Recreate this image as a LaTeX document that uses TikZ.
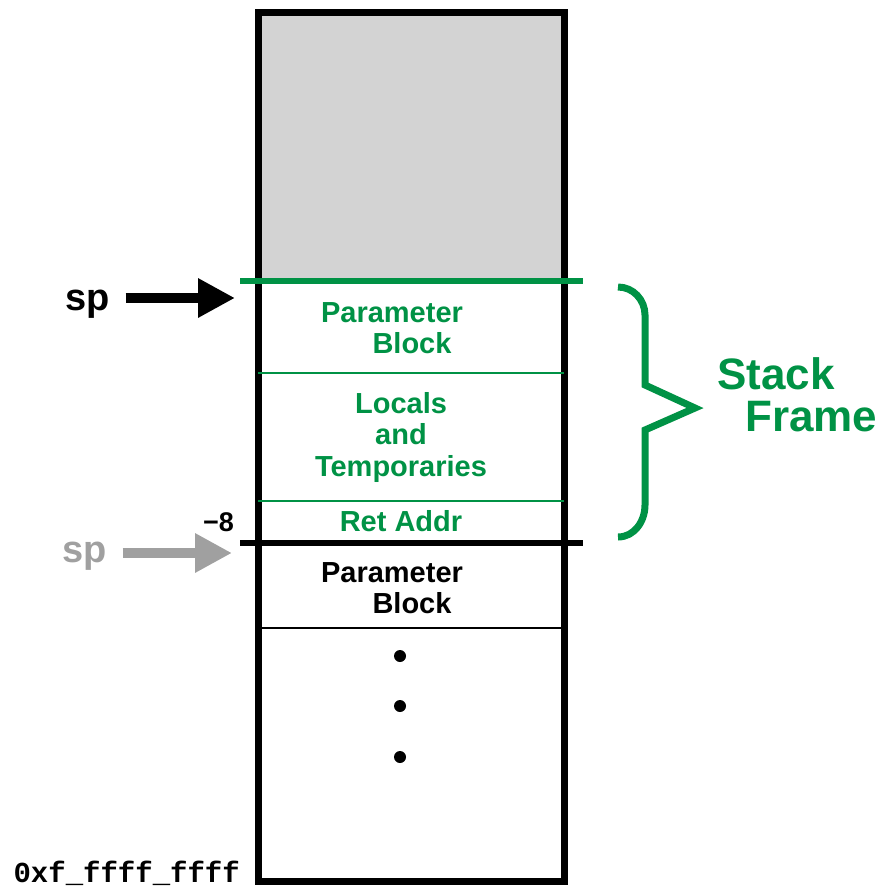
\documentclass[tikz,border=0pt]{standalone}
\usepackage{fontspec}
\setmainfont{Liberation Sans}
\setmonofont{Liberation Mono}
\usepackage{tikz}
\usetikzlibrary{arrows.meta, positioning}

\definecolor{framegreen}{RGB}{0,146,69}
\definecolor{oldspgray}{RGB}{160,160,160}
\definecolor{usedgray}{RGB}{211,211,211}

\begin{document}
\begin{tikzpicture}[
    x=1pt, y=-1pt,
    cell/.style={font=\fontsize{29}{31.5}\selectfont\bfseries, align=center, inner sep=0pt},
    splabel/.style={font=\fontsize{38}{40}\selectfont\bfseries, inner sep=0pt, anchor=base west},
    pointer/.style={-{Triangle[length=37pt, width=37pt]}, line width=10pt},
    wideline/.style={line width=6pt},
    thinline/.style={line width=2.5pt}
  ]
  \useasboundingbox (0,0) rectangle (881,888);

  % stack memory column
  \fill[usedgray] (258,13) rectangle (564,281);
  \draw[line width=7pt] (258,13) rectangle (564,881);
  \draw[thinline, framegreen] (258,373) -- (564,373);
  \draw[thinline, framegreen] (258,501) -- (564,501);
  \draw[thinline] (258,628) -- (564,628);
  \draw[wideline, framegreen] (240,281) -- (583,281);
  \draw[wideline] (240,543) -- (583,543);

  % cells
  \node[cell, text=framegreen] (parblk) at (392,328) {Parameter\\\hspace*{40pt}Block};
  \node[cell, text=framegreen] (locals) at (401,437) {Locals\\and\\Temporaries};
  \node[cell, text=framegreen] (retaddr) at (401,521) {Ret Addr};
  \node[cell] (callerblk) at (392,588) {Parameter\\\hspace*{40pt}Block};
  \foreach \y in {656,706,757}
    \fill (400,\y) circle (6pt);

  % stack pointers
  \node[splabel] (sp) at (65,310) {sp};
  \coordinate (sptip) at (235,298);
  \draw[pointer] ([xshift=16pt]sp.east |- sptip) -- (sptip);

  \node[splabel, text=oldspgray] (oldsp) at (62,562) {sp};
  \coordinate (oldsptip) at (232,553);
  \draw[pointer, oldspgray] ([xshift=16pt]oldsp.east |- oldsptip) -- (oldsptip);

  \node[font=\fontsize{27}{28}\selectfont\bfseries, inner sep=0pt, anchor=east] (offset) at (234,522) {−8};
  \node[font=\fontsize{29}{30}\selectfont\ttfamily\bfseries, inner sep=0pt, anchor=base east] (topaddr) at (240,882) {0xf\_ffff\_ffff};

  % frame brace
  \draw[framegreen, line width=7pt] (618,287) to[out=0, in=90] (645,315) -- (645,385)
    -- (695,408) -- (645,430) -- (645,505) to[out=-90, in=0] (618,537);
  \node[font=\fontsize{44}{42}\selectfont\bfseries, text=framegreen, align=left, inner sep=0pt, anchor=west]
    (frame) at (717,395) {Stack\\\hspace*{28pt}Frame};
\end{tikzpicture}
\end{document}
